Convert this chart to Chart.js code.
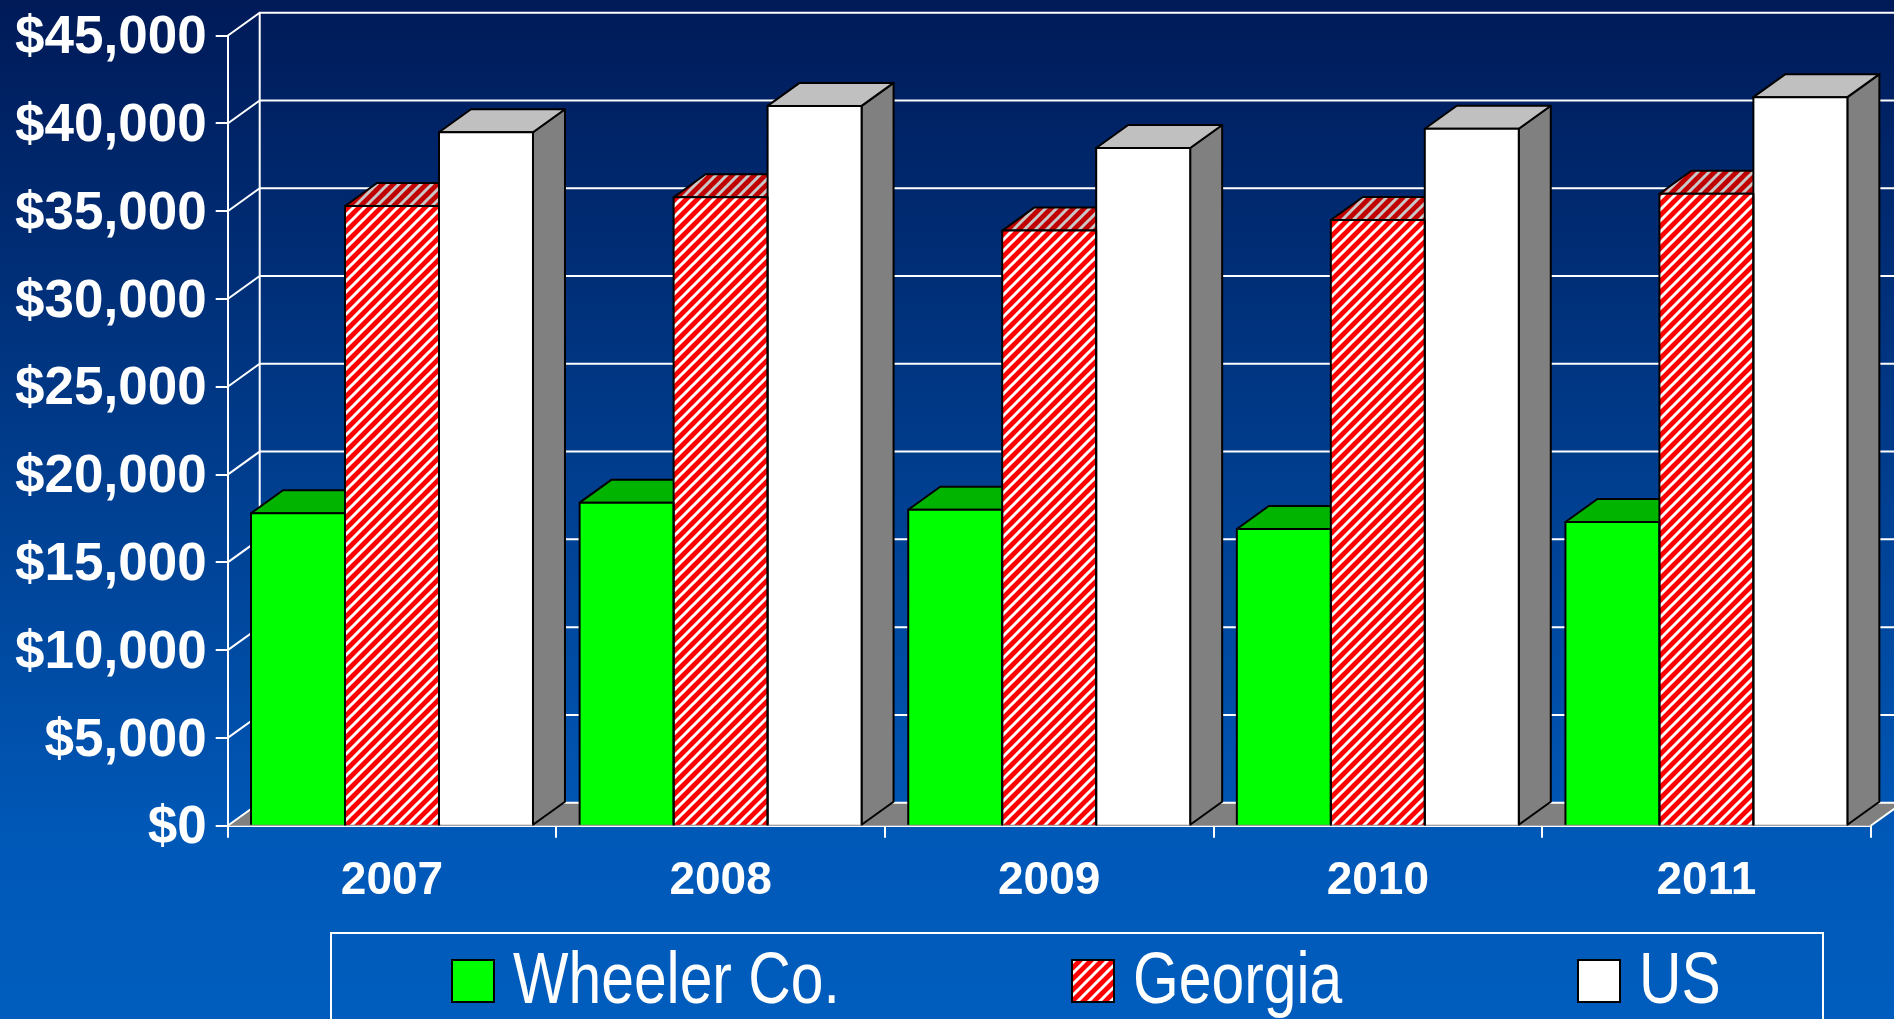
<!DOCTYPE html>
<html>
<head>
<meta charset="utf-8">
<script src="https://cdn.jsdelivr.net/npm/chart.js@4"></script>
<style>
html, body { margin: 0; padding: 0; overflow: hidden; background: #0050a8; }
canvas { display: block; }
</style>
</head>
<body>
<canvas id="Graph" width="1894" height="1019"></canvas>
<script>
const years = ['2007', '2008', '2009', '2010', '2011'];
const wheelerCo = [17800, 18400, 18000, 16900, 17300];
const georgia = [35300, 35800, 33900, 34500, 36000];
const unitedStates = [39500, 41000, 38600, 39700, 41500];
const seriesNames = ['Wheeler Co.', 'Georgia', 'US'];
const yMax = 45000;
const yStep = 5000;

// fake 3d depth
const DX = 32, DY = -23;
const FONT = '"Liberation Sans", Arial, sans-serif';

const canvas = document.getElementById('Graph');
const ctx = canvas.getContext('2d');

function stripes(bg, fg) {
    const n = 11;
    const tile = document.createElement('canvas');
    tile.width = n; tile.height = n;
    const g = tile.getContext('2d');
    g.fillStyle = bg;
    g.fillRect(0, 0, n, n);
    g.strokeStyle = fg;
    g.lineWidth = 3;
    g.beginPath();
    g.moveTo(-3, n + 3); g.lineTo(n + 3, -3);
    g.moveTo(-3, 3); g.lineTo(3, -3);
    g.moveTo(n - 3, n + 3); g.lineTo(n + 3, n - 3);
    g.stroke();
    return ctx.createPattern(tile, 'repeat');
}

function poly(c, pts, fill) {
    c.beginPath();
    c.moveTo(pts[0][0], pts[0][1]);
    for (let i = 1; i < pts.length; i++) c.lineTo(pts[i][0], pts[i][1]);
    c.closePath();
    c.fillStyle = fill;
    c.fill();
    c.stroke();
}

function barBox(bar) {
    const p = bar.getProps(['x', 'y', 'base', 'width'], true);
    return { l: p.x - p.width / 2, r: p.x + p.width / 2, top: p.y, base: p.base };
}

const depth3d = {
    id: 'depth3d',
    beforeDraw(chart) {
        const c = chart.ctx;
        const g = c.createLinearGradient(0, 0, 0, chart.height);
        g.addColorStop(0, '#001a58');
        g.addColorStop(0.82, '#0058b7');
        g.addColorStop(1, '#005dbd');
        c.save();
        c.fillStyle = g;
        c.fillRect(0, 0, chart.width, chart.height);
        c.restore();
    },
    beforeDatasetsDraw(chart) {
        const c = chart.ctx;
        const a = chart.chartArea;
        const y = chart.scales.y;
        c.save();
        // floor
        c.fillStyle = '#808080';
        c.beginPath();
        c.moveTo(a.left, a.bottom);
        c.lineTo(a.right, a.bottom);
        c.lineTo(a.right + DX, a.bottom + DY);
        c.lineTo(a.left + DX, a.bottom + DY);
        c.closePath();
        c.fill();
        // back wall + side wall lines
        c.strokeStyle = '#ffffff';
        c.lineWidth = 2;
        c.beginPath();
        c.moveTo(a.left + DX, a.top + DY);
        c.lineTo(a.left + DX, a.bottom + DY);
        y.ticks.forEach(t => {
            const py = y.getPixelForValue(t.value);
            c.moveTo(a.left, py);
            c.lineTo(a.left + DX, py + DY);
            c.lineTo(chart.width + 5, py + DY);
        });
        c.moveTo(a.right, a.bottom);
        c.lineTo(a.right + DX, a.bottom + DY);
        c.stroke();
        // tops and sides of the columns
        c.strokeStyle = '#000000';
        c.lineWidth = 2;
        c.lineJoin = 'round';
        chart.data.datasets.forEach((ds, i) => {
            chart.getDatasetMeta(i).data.forEach(bar => {
                const b = barBox(bar);
                poly(c, [[b.r, b.top], [b.r + DX, b.top + DY], [b.r + DX, b.base + DY], [b.r, b.base]], ds.sideColor);
                poly(c, [[b.l, b.top], [b.r, b.top], [b.r + DX, b.top + DY], [b.l + DX, b.top + DY]], ds.topColor);
            });
        });
        c.restore();
    },
    afterDatasetsDraw(chart) {
        const c = chart.ctx;
        c.save();
        c.strokeStyle = '#000000';
        c.lineWidth = 2;
        c.lineJoin = 'round';
        chart.data.datasets.forEach((ds, i) => {
            chart.getDatasetMeta(i).data.forEach(bar => {
                const b = barBox(bar);
                c.beginPath();
                c.moveTo(b.l, b.base);
                c.lineTo(b.l, b.top);
                c.lineTo(b.r, b.top);
                c.lineTo(b.r, b.base);
                c.stroke();
            });
        });
        c.restore();
    },
    afterDraw(chart) {
        const c = chart.ctx;
        c.save();
        c.strokeStyle = '#ffffff';
        c.lineWidth = 2;
        c.strokeRect(331, 933, 1492, 140);
        const xs = [452, 1072, 1578];
        chart.data.datasets.forEach((ds, i) => {
            c.fillStyle = ds.backgroundColor;
            c.fillRect(xs[i], 960, 42, 42);
            c.strokeStyle = '#000000';
            c.strokeRect(xs[i], 960, 42, 42);
            c.save();
            c.translate(xs[i] + 61, 1003);
            c.scale(0.84, 1.02);
            c.fillStyle = '#ffffff';
            c.font = '70px ' + FONT;
            c.textBaseline = 'alphabetic';
            c.fillText(ds.label, 0, 0);
            c.restore();
        });
        c.restore();
    }
};

new Chart(ctx, {
    type: 'bar',
    data: {
        labels: years,
        datasets: [
            {
                label: seriesNames[0],
                data: wheelerCo,
                backgroundColor: '#00ff00',
                topColor: '#00b400',
                sideColor: '#008c00'
            },
            {
                label: seriesNames[1],
                data: georgia,
                backgroundColor: stripes('#ff0000', '#ffffff'),
                topColor: stripes('#c00000', '#c8c8c8'),
                sideColor: stripes('#a00000', '#a0a0a0')
            },
            {
                label: seriesNames[2],
                data: unitedStates,
                backgroundColor: '#ffffff',
                topColor: '#c0c0c0',
                sideColor: '#808080'
            }
        ]
    },
    plugins: [depth3d],
    options: {
        responsive: false,
        animation: false,
        devicePixelRatio: 1,
        borderWidth: 0,
        categoryPercentage: 0.858,
        barPercentage: 1,
        layout: { padding: { top: 35.7, right: 23.3, left: 0, bottom: 0 } },
        plugins: {
            legend: { display: false },
            tooltip: { enabled: false }
        },
        scales: {
            x: {
                z: 1,
                afterFit: s => { s.height = 1019 - 825.7; },
                grid: { drawOnChartArea: false, drawTicks: true, tickLength: 12, color: '#ffffff', lineWidth: 2 },
                border: { color: '#ffffff', width: 2 },
                ticks: { color: '#ffffff', padding: 16, font: { family: FONT, size: 46, weight: 'bold' } }
            },
            y: {
                z: 1,
                min: 0,
                max: yMax,
                afterFit: s => { s.width = 227.7; s.paddingTop = 0; s.paddingBottom = 0; },
                grid: { drawOnChartArea: false, drawTicks: true, tickLength: 12, color: '#ffffff', lineWidth: 2 },
                border: { color: '#ffffff', width: 2 },
                ticks: {
                    stepSize: yStep,
                    color: '#ffffff',
                    padding: 9,
                    labelOffset: 3,
                    font: { family: FONT, size: 53, weight: 'bold', lineHeight: 1 },
                    callback: v => '$' + v.toLocaleString('en-US')
                }
            }
        }
    }
});
</script>
</body>
</html>
